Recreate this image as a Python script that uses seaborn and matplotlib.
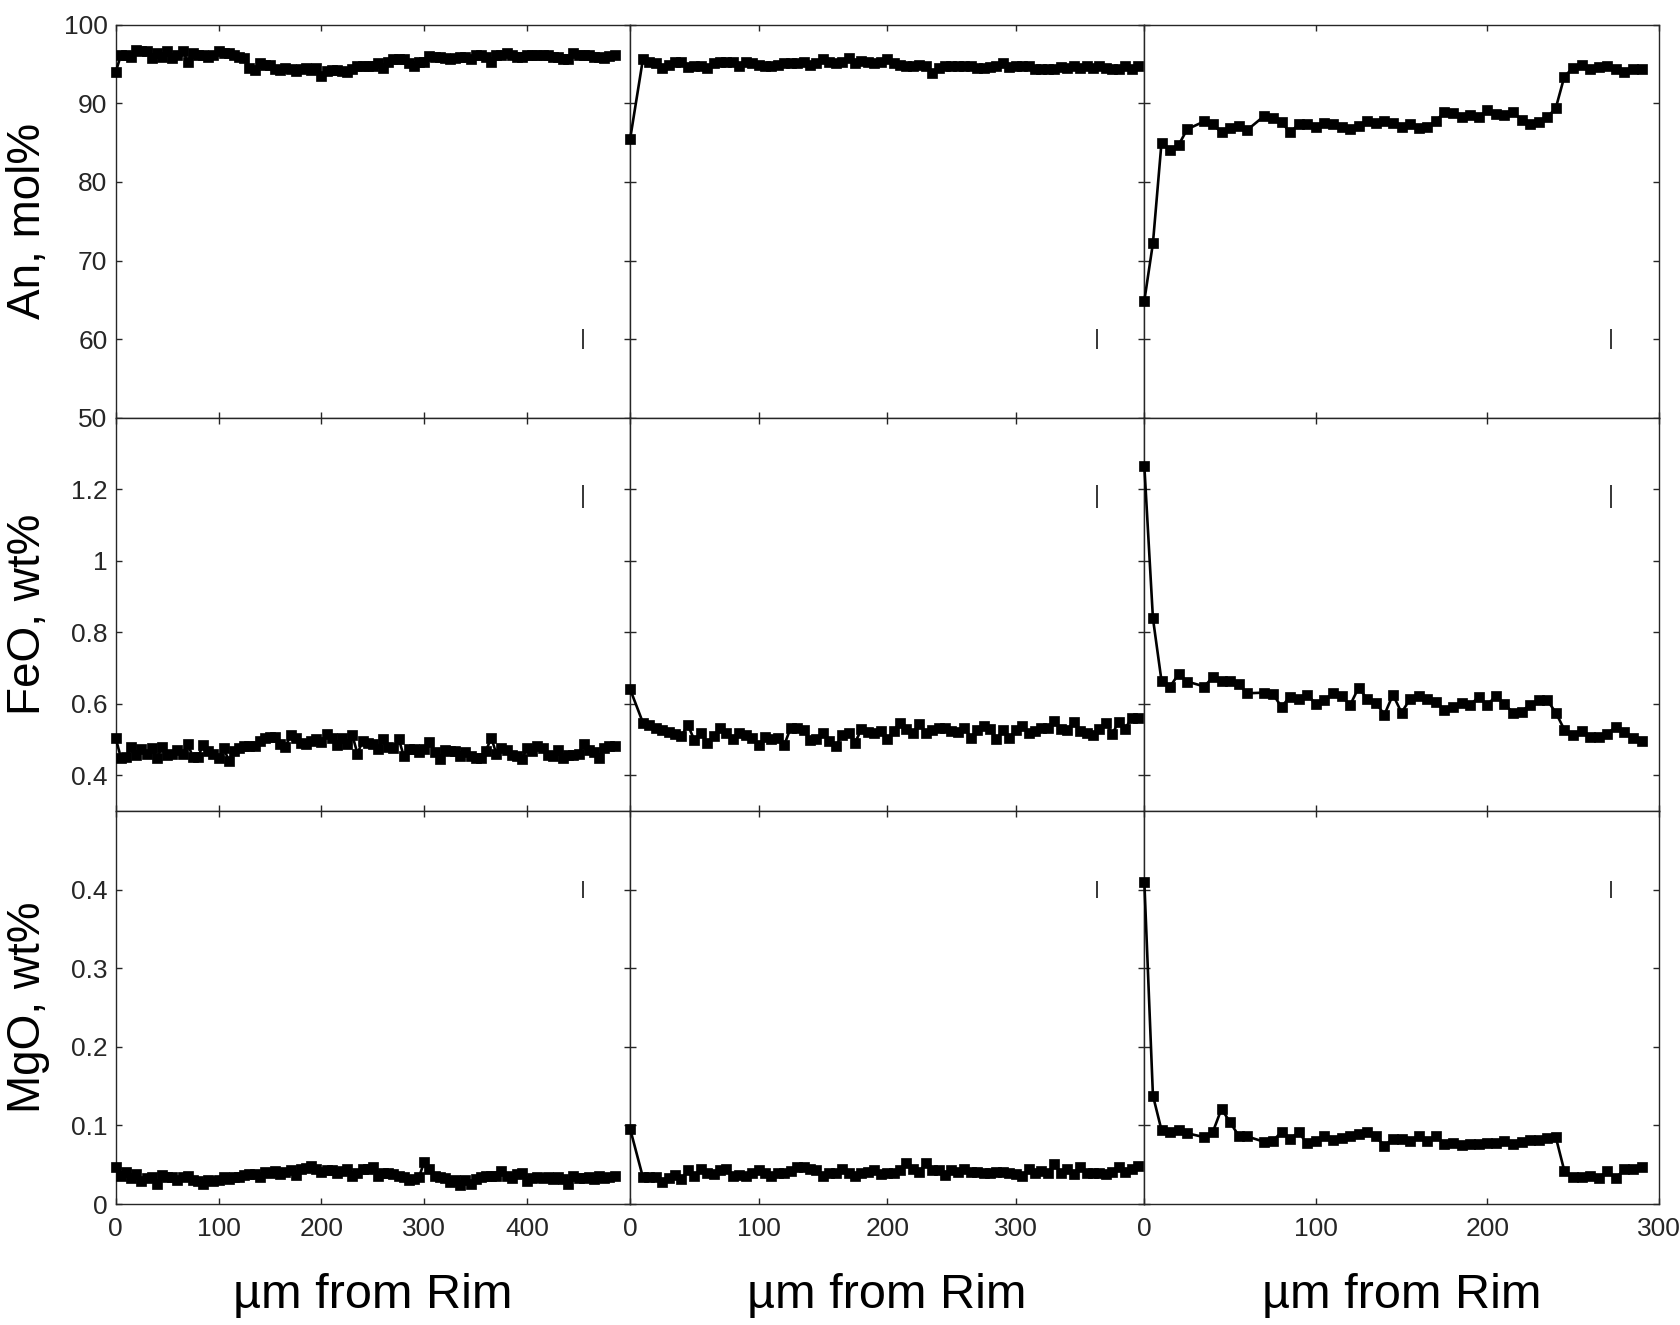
import matplotlib
matplotlib.use("Agg")
import matplotlib.pyplot as plt
import seaborn as sns
from matplotlib.ticker import FuncFormatter

# distance from rim (um), one list per crystal profile
dist_1 = list(range(0, 490, 5))
dist_2 = [0] + list(range(10, 400, 5))
dist_3 = [0, 5, 10, 15, 20, 25, 35, 40, 45, 50, 55, 60] + list(range(70, 295, 5))

# An, mol%
an_1 = [94.0, 96.1, 96.1, 95.9, 96.8, 96.6, 96.7, 95.8, 96.4, 95.9,
        96.6, 95.8, 96.1, 96.7, 95.3, 96.4, 96.1, 96.1, 95.9, 96.2,
        96.6, 96.4, 96.4, 96.1, 95.9, 95.8, 94.5, 94.2, 95.1, 94.9,
        94.9, 94.3, 94.2, 94.5, 94.3, 94.1, 94.3, 94.5, 94.2, 94.5,
        93.5, 94.1, 94.2, 94.2, 94.1, 94.0, 94.3, 94.7, 94.7, 94.7,
        94.8, 95.1, 94.5, 95.3, 95.6, 95.6, 95.6, 95.1, 94.7, 95.2,
        95.3, 96.0, 95.9, 95.9, 95.8, 95.6, 95.8, 95.9, 95.9, 95.6,
        96.2, 96.1, 95.9, 95.3, 96.1, 96.2, 96.4, 96.1, 95.9, 95.9,
        96.1, 96.1, 96.1, 96.1, 96.2, 95.9, 95.9, 95.6, 95.6, 96.4,
        96.1, 96.1, 96.1, 95.9, 95.9, 95.8, 96.0, 96.1]
an_2 = [85.4, 95.6, 95.3, 95.1, 94.5, 94.9, 95.2, 95.2, 94.6, 94.8,
        94.7, 94.5, 95.1, 95.2, 95.3, 95.2, 94.7, 95.2, 95.1, 94.9,
        94.8, 94.7, 94.9, 95.1, 95.1, 95.1, 95.2, 94.9, 95.1, 95.6,
        95.3, 95.1, 95.2, 95.8, 95.1, 95.4, 95.2, 95.1, 95.2, 95.6,
        95.1, 94.9, 94.8, 94.8, 94.9, 94.7, 93.9, 94.5, 94.7, 94.7,
        94.7, 94.7, 94.7, 94.5, 94.5, 94.6, 94.7, 95.1, 94.6, 94.7,
        94.8, 94.7, 94.3, 94.3, 94.3, 94.4, 94.6, 94.5, 94.7, 94.5,
        94.7, 94.5, 94.7, 94.5, 94.4, 94.3, 94.7, 94.3, 94.7]
an_3 = [64.9, 72.2, 85.0, 84.1, 84.7, 86.7, 87.7, 87.3, 86.3, 86.9,
        87.1, 86.6, 88.4, 88.1, 87.6, 86.3, 87.3, 87.4, 87.0, 87.5,
        87.4, 87.0, 86.7, 87.1, 87.7, 87.5, 87.8, 87.5, 87.0, 87.3,
        86.8, 87.0, 87.7, 88.9, 88.7, 88.2, 88.5, 88.2, 89.1, 88.6,
        88.5, 88.9, 87.9, 87.4, 87.6, 88.2, 89.4, 93.4, 94.5, 94.9,
        94.3, 94.6, 94.8, 94.3, 94.0, 94.4, 94.4]

# FeO, wt%
feo_1 = [0.503, 0.449, 0.451, 0.479, 0.456, 0.473, 0.459, 0.475, 0.447, 0.479,
         0.456, 0.460, 0.470, 0.459, 0.487, 0.451, 0.451, 0.485, 0.468, 0.459,
         0.447, 0.475, 0.440, 0.468, 0.475, 0.482, 0.482, 0.482, 0.496, 0.505,
         0.508, 0.508, 0.487, 0.479, 0.512, 0.505, 0.491, 0.488, 0.495, 0.500,
         0.493, 0.516, 0.505, 0.484, 0.505, 0.488, 0.512, 0.460, 0.496, 0.491,
         0.487, 0.474, 0.500, 0.479, 0.477, 0.502, 0.454, 0.473, 0.473, 0.466,
         0.473, 0.493, 0.464, 0.445, 0.470, 0.468, 0.468, 0.454, 0.466, 0.454,
         0.449, 0.447, 0.468, 0.505, 0.460, 0.477, 0.470, 0.456, 0.454, 0.445,
         0.477, 0.468, 0.482, 0.475, 0.456, 0.454, 0.470, 0.449, 0.456, 0.456,
         0.460, 0.488, 0.470, 0.466, 0.449, 0.477, 0.482, 0.482]
feo_2 = [0.641, 0.547, 0.540, 0.533, 0.526, 0.520, 0.515, 0.510, 0.540, 0.498,
         0.519, 0.491, 0.510, 0.531, 0.519, 0.501, 0.517, 0.513, 0.505, 0.484,
         0.507, 0.501, 0.504, 0.485, 0.533, 0.531, 0.526, 0.499, 0.501, 0.519,
         0.496, 0.482, 0.512, 0.519, 0.491, 0.529, 0.520, 0.517, 0.524, 0.501,
         0.524, 0.547, 0.529, 0.519, 0.543, 0.519, 0.527, 0.533, 0.533, 0.524,
         0.521, 0.533, 0.505, 0.526, 0.538, 0.529, 0.501, 0.526, 0.504, 0.527,
         0.538, 0.518, 0.524, 0.533, 0.533, 0.552, 0.529, 0.527, 0.549, 0.524,
         0.519, 0.512, 0.529, 0.546, 0.515, 0.549, 0.529, 0.560, 0.561]
feo_3 = [1.264, 0.839, 0.664, 0.648, 0.683, 0.662, 0.648, 0.675, 0.664, 0.664,
         0.655, 0.629, 0.631, 0.627, 0.591, 0.620, 0.613, 0.625, 0.599, 0.610,
         0.629, 0.622, 0.596, 0.645, 0.613, 0.603, 0.569, 0.625, 0.575, 0.613,
         0.622, 0.613, 0.606, 0.582, 0.591, 0.601, 0.596, 0.619, 0.596, 0.622,
         0.599, 0.575, 0.578, 0.597, 0.610, 0.610, 0.575, 0.527, 0.512, 0.524,
         0.508, 0.507, 0.515, 0.536, 0.521, 0.504, 0.496]

# MgO, wt%
mgo_1 = [0.047, 0.036, 0.041, 0.033, 0.038, 0.029, 0.033, 0.035, 0.026, 0.037,
         0.034, 0.035, 0.030, 0.035, 0.036, 0.031, 0.029, 0.026, 0.030, 0.029,
         0.031, 0.034, 0.032, 0.035, 0.034, 0.037, 0.038, 0.038, 0.035, 0.041,
         0.039, 0.042, 0.038, 0.041, 0.043, 0.037, 0.044, 0.046, 0.049, 0.044,
         0.041, 0.043, 0.043, 0.040, 0.042, 0.044, 0.036, 0.040, 0.044, 0.045,
         0.047, 0.036, 0.039, 0.039, 0.038, 0.036, 0.034, 0.030, 0.032, 0.035,
         0.054, 0.045, 0.036, 0.035, 0.033, 0.028, 0.031, 0.024, 0.030, 0.026,
         0.032, 0.035, 0.036, 0.036, 0.036, 0.042, 0.036, 0.033, 0.038, 0.040,
         0.029, 0.033, 0.034, 0.033, 0.034, 0.032, 0.034, 0.032, 0.025, 0.036,
         0.033, 0.033, 0.035, 0.032, 0.036, 0.033, 0.034, 0.036]
mgo_2 = [0.096, 0.034, 0.034, 0.034, 0.028, 0.033, 0.037, 0.032, 0.043, 0.036,
         0.044, 0.040, 0.038, 0.043, 0.045, 0.036, 0.037, 0.036, 0.040, 0.043,
         0.040, 0.036, 0.039, 0.040, 0.042, 0.047, 0.047, 0.045, 0.043, 0.036,
         0.040, 0.040, 0.044, 0.039, 0.036, 0.039, 0.041, 0.043, 0.038, 0.040,
         0.040, 0.043, 0.052, 0.044, 0.041, 0.052, 0.043, 0.043, 0.037, 0.043,
         0.041, 0.044, 0.041, 0.041, 0.039, 0.040, 0.041, 0.041, 0.040, 0.038,
         0.036, 0.044, 0.040, 0.042, 0.040, 0.051, 0.040, 0.045, 0.038, 0.047,
         0.040, 0.039, 0.040, 0.038, 0.041, 0.047, 0.041, 0.044, 0.049]
mgo_3 = [0.409, 0.138, 0.094, 0.092, 0.094, 0.090, 0.085, 0.092, 0.121, 0.104,
         0.087, 0.086, 0.079, 0.080, 0.092, 0.083, 0.091, 0.077, 0.080, 0.086,
         0.081, 0.084, 0.087, 0.089, 0.092, 0.086, 0.074, 0.083, 0.083, 0.080,
         0.086, 0.080, 0.087, 0.076, 0.078, 0.075, 0.076, 0.076, 0.078, 0.078,
         0.080, 0.076, 0.079, 0.082, 0.082, 0.084, 0.085, 0.042, 0.035, 0.034,
         0.036, 0.033, 0.042, 0.033, 0.044, 0.044, 0.047]

# analytical uncertainty bars (position per column, value and half-length per row)
err_x = [454, 363, 272]
err_y = [60, 1.18, 0.40]
err_half = [1.25, 0.033, 0.011]

row_labels = ["An, mol%", "FeO, wt%", "MgO, wt%"]
x_label = "\u00b5m from Rim"
x_limits = [(0, 500), (0, 400), (0, 300)]
x_ticks = [[0, 100, 200, 300, 400], [0, 100, 200, 300], [0, 100, 200, 300]]
y_limits = [(50, 100), (0.3, 1.4), (0, 0.5)]
y_ticks = [[50, 60, 70, 80, 90, 100], [0.4, 0.6, 0.8, 1.0, 1.2], [0, 0.1, 0.2, 0.3, 0.4]]

dists = [dist_1, dist_2, dist_3]
values = [[an_1, an_2, an_3], [feo_1, feo_2, feo_3], [mgo_1, mgo_2, mgo_3]]

sns.set_style("ticks")
plt.rcParams["font.family"] = ["Liberation Sans", "DejaVu Sans"]
axis_color = "#262626"

fig, axes = plt.subplots(3, 3, figsize=(16.8, 13.25), dpi=100, sharex="col", sharey="row")
fig.subplots_adjust(left=0.0689, right=0.9873, top=0.9814, bottom=0.0913, wspace=0, hspace=0)

for r in range(3):
    for c in range(3):
        ax = axes[r, c]
        sns.lineplot(x=dists[c], y=values[r][c], ax=ax, color="black", marker="s",
                     markersize=7.2, markeredgecolor="black", markeredgewidth=0.5,
                     linewidth=1.9, estimator=None, sort=False, clip_on=False, zorder=3)
        ax.errorbar([err_x[c]], [err_y[r]], yerr=[err_half[r]], fmt="none",
                    ecolor="black", elinewidth=1.1, capsize=0)
        ax.set_xlim(*x_limits[c])
        ax.set_ylim(*y_limits[r])
        ax.set_xticks(x_ticks[c])
        ax.set_yticks(y_ticks[r])
        ax.yaxis.set_major_formatter(FuncFormatter(lambda v, p: f"{v:g}"))
        ax.tick_params(direction="in", length=4, width=1, top=True, right=True,
                       labelsize=19, colors=axis_color, pad=6)
        ax.tick_params(axis="x", pad=9)
        for s in ax.spines.values():
            s.set_visible(True)
            s.set_linewidth(1.0)
            s.set_color(axis_color)
        ax.set_xlabel("")
        ax.set_ylabel("")

for r in range(3):
    axes[r, 0].set_ylabel(row_labels[r], fontsize=33, color="black")
    axes[r, 0].yaxis.set_label_coords(-0.1275, 0.5)

for c in range(3):
    axes[2, c].set_xlabel(x_label, fontsize=35, color="black")
    axes[2, c].xaxis.set_label_coords(0.5, -0.175)

fig.savefig("out.png", dpi=100)
